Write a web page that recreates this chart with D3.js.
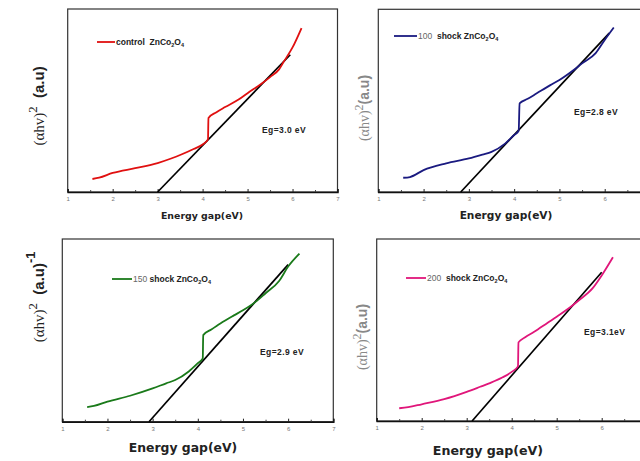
<!DOCTYPE html>
<html><head><meta charset="utf-8">
<script src="https://cdn.jsdelivr.net/npm/d3@7"></script>
<style>body{margin:0;background:#fff}svg{display:block}</style>
</head><body>
<svg id="c" width="640" height="461"></svg>
<script>
// ---- data ----
const xTicks = [1, 2, 3, 4, 5, 6, 7];
const xMinorTicks = [1.5, 2.5, 3.5, 4.5, 5.5, 6.5];

const controlE = [1.55, 1.7, 2.0, 2.5, 3.0, 3.3, 3.5, 3.8, 4.0, 4.12, 4.13, 4.3, 4.5, 4.8, 5.0, 5.3, 5.5, 5.7, 5.8, 6.0, 6.2];
const controlA = [7.1, 7.8, 10.4, 13.0, 15.8, 18.3, 20.2, 23.5, 26.0, 28.8, 40.4, 43.5, 46.4, 50.5, 54.0, 59.0, 62.8, 67.0, 71.0, 79.0, 89.6];
const controlFitE = [3.0, 5.95];
const controlFitA = [0, 75];

const shock100E = [1.55, 1.7, 2.0, 2.5, 3.0, 3.3, 3.5, 3.8, 4.0, 4.1, 4.12, 4.3, 4.5, 4.8, 5.0, 5.3, 5.5, 5.8, 6.0, 6.2];
const shock100A = [7.8, 8.2, 12.0, 15.7, 18.4, 20.5, 22.0, 26.5, 31.2, 33.5, 48.5, 51.0, 54.0, 58.5, 61.3, 66.5, 70.4, 76.0, 83.2, 90.0];
const shock100FitE = [2.82, 6.1];
const shock100FitA = [0, 87];

const shock150E = [1.55, 1.7, 2.0, 2.5, 3.0, 3.3, 3.5, 3.8, 4.0, 4.11, 4.12, 4.3, 4.5, 4.8, 5.0, 5.3, 5.5, 5.8, 6.0, 6.25];
const shock150A = [8.0, 8.6, 11.0, 14.2, 18.2, 21.0, 22.8, 27.5, 32.0, 34.7, 47.4, 50.5, 53.8, 58.2, 61.0, 66.0, 70.3, 77.0, 84.9, 92.0];
const shock150FitE = [2.92, 6.0];
const shock150FitA = [0, 86];

const shock200E = [1.5, 1.7, 2.0, 2.5, 3.0, 3.3, 3.5, 3.8, 4.0, 4.14, 4.15, 4.3, 4.5, 4.8, 5.0, 5.3, 5.5, 5.8, 6.0, 6.25];
const shock200A = [7.0, 7.6, 9.2, 12.0, 16.0, 18.8, 20.7, 24.0, 27.0, 30.0, 43.2, 46.0, 49.0, 54.0, 57.3, 62.5, 66.5, 73.0, 80.0, 90.0];
const shock200FitE = [3.12, 6.0];
const shock200FitA = [0, 81.7];

const legendNums = ["control  ", "100  ", "150 ", "200  "];
const egLabels = ["Eg=3.0 eV", "Eg=2.8 eV", "Eg=2.9 eV", "Eg=3.1eV"];
const xTitle = "Energy gap(eV)";

// ---- layout ----
const svg = d3.select("#c");
const panels = [
  {E: controlE, A: controlA, fE: controlFitE, fA: controlFitA, color: "#e01010",
   x0: 67.7, x1: 337.5, yT: 9, yB: 192, leg: [97, 115, 42], legBoldNum: true,
   eg: [262, 133], title: [202, 219, 9.4], ylab: [44, 106, 15, "#222"], minus1: false},
  {E: shock100E, A: shock100A, fE: shock100FitE, fA: shock100FitA, color: "#1a1a80",
   x0: 378.3, x1: 650, yT: 9.3, yB: 192, leg: [394, 417, 36], legBoldNum: false,
   eg: [574, 115], title: [506, 219, 10.6], ylab: [369, 108, 14, "#888"], minus1: false},
  {E: shock150E, A: shock150A, fE: shock150FitE, fA: shock150FitA, color: "#1a7a1a",
   x0: 62.3, x1: 333.3, yT: 239, yB: 421.7, leg: [112, 132, 279], legBoldNum: false,
   eg: [260, 355], title: [183, 452, 12.4], ylab: [44, 297, 15, "#222"], minus1: true},
  {E: shock200E, A: shock200A, fE: shock200FitE, fA: shock200FitA, color: "#e0167a",
   x0: 376.7, x1: 646.7, yT: 239, yB: 421, leg: [406, 426, 278], legBoldNum: false,
   eg: [584, 335], title: [488, 455, 12.6], ylab: [367, 337, 14, "#888"], minus1: false}
];

panels.forEach((p, pi) => {
  const x = d3.scaleLinear().domain([1, 7]).range([p.x0, p.x1]);
  const y = d3.scaleLinear().domain([0, 100]).range([p.yB, p.yT]);
  const g = svg.append("g");

  // frame
  g.append("rect").attr("x", p.x0).attr("y", p.yT).attr("width", p.x1 - p.x0).attr("height", p.yB - p.yT)
    .attr("fill", "none").attr("stroke", "#333").attr("stroke-width", 1.2);

  // x axis (labels only where visible in the window)
  const ax = d3.axisBottom(x).tickValues(xTicks).tickSize(-3).tickPadding(5)
    .tickFormat(d => x(d) < 634 ? d3.format("d")(d) : "");
  const axg = g.append("g").attr("transform", `translate(0,${p.yB})`).call(ax);
  axg.select(".domain").attr("stroke", "#111").attr("stroke-width", 1.5);
  axg.selectAll(".tick line").attr("stroke", "#222");
  axg.selectAll(".tick text").attr("font-size", 6).attr("fill", "#777").attr("font-family", "Liberation Sans, Arial, sans-serif");
  const mg = g.append("g").attr("transform", `translate(0,${p.yB})`)
    .call(d3.axisBottom(x).tickValues(xMinorTicks).tickSize(-2).tickFormat(""));
  mg.select(".domain").remove();
  mg.selectAll(".tick line").attr("stroke", "#444");

  // fit line
  const fit = p.fE.map((e, i) => [e, p.fA[i]]);
  g.append("path").datum(fit)
    .attr("d", d3.line().x(d => x(d[0])).y(d => y(d[1])))
    .attr("stroke", "#000").attr("stroke-width", 1.7).attr("fill", "none");

  // curve
  const data = p.E.map((e, i) => [e, p.A[i]]);
  g.append("path").datum(data)
    .attr("d", d3.line().curve(d3.curveMonotoneX).x(d => x(d[0])).y(d => y(d[1])))
    .attr("stroke", p.color).attr("stroke-width", 1.8).attr("fill", "none");

  // legend
  g.append("line").attr("x1", p.leg[0]).attr("x2", p.leg[1]).attr("y1", p.leg[2]).attr("y2", p.leg[2])
    .attr("stroke", p.color).attr("stroke-width", 1.8);
  const lt = g.append("text").attr("x", p.leg[1] + 1).attr("y", p.leg[2] + 3)
    .attr("font-family", "Liberation Sans, Arial, sans-serif").attr("font-size", 8.5).attr("fill", "#222")
    .style("white-space", "pre");
  lt.append("tspan").text(legendNums[pi]).attr("font-weight", p.legBoldNum ? "bold" : "normal").attr("fill", p.legBoldNum ? "#222" : "#666");
  lt.append("tspan").text(p.legBoldNum ? "ZnCo" : "shock ZnCo").attr("font-weight", "bold");
  lt.append("tspan").text("2").attr("font-size", 5.5).attr("dy", 2).attr("font-weight", "bold");
  lt.append("tspan").text("O").attr("dy", -2).attr("font-weight", "bold");
  lt.append("tspan").text("4").attr("font-size", 5.5).attr("dy", 2).attr("font-weight", "bold");

  // Eg label
  g.append("text").attr("x", p.eg[0]).attr("y", p.eg[1]).text(egLabels[pi])
    .attr("font-family", "Liberation Sans, Arial, sans-serif").attr("font-size", 8.5).attr("letter-spacing", 0.4)
    .attr("font-weight", "bold").attr("fill", "#222");

  // x title
  g.append("text").attr("x", p.title[0]).attr("y", p.title[1]).attr("text-anchor", "middle")
    .attr("font-family", "DejaVu Sans, Verdana, sans-serif").attr("font-weight", "bold")
    .attr("font-size", p.title[2]).attr("fill", "#222").text(xTitle);

  // y label
  const yl = g.append("text").attr("transform", `translate(${p.ylab[0]},${p.ylab[1]}) rotate(-90)`)
    .attr("text-anchor", "middle").attr("fill", p.ylab[3]).attr("font-size", p.ylab[2]).style("white-space", "pre");
  yl.append("tspan").text("(αhv)").attr("font-family", "Liberation Serif, Times New Roman, serif");
  yl.append("tspan").text("2").attr("font-family", "Liberation Serif, serif").attr("dy", -p.ylab[2] * 0.45).attr("font-size", p.ylab[2] * 0.85);
  yl.append("tspan").text(p.minus1 || pi === 0 ? "  (a.u)" : "(a.u)").attr("dy", p.ylab[2] * 0.45)
    .attr("font-family", "Liberation Sans, Arial, sans-serif").attr("font-weight", "bold");
  if (p.minus1) {
    yl.append("tspan").text("-1").attr("dy", -p.ylab[2] * 0.6).attr("font-size", p.ylab[2] * 0.85)
      .attr("font-family", "Liberation Sans, Arial, sans-serif").attr("font-weight", "bold");
  }
});
</script>
</body></html>
